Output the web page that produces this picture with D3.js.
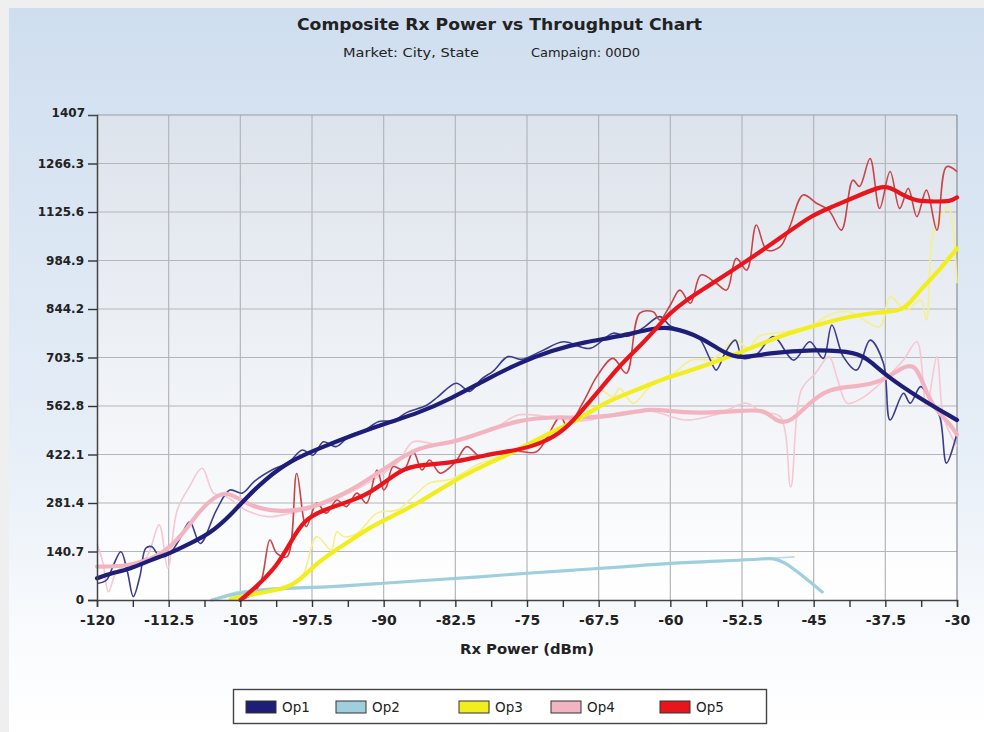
<!DOCTYPE html>
<html><head><meta charset="utf-8">
<script src="https://cdn.jsdelivr.net/npm/d3@7"></script>
<style>
html,body{margin:0;padding:0;background:#efefef;}
svg{display:block;}
text{font-family:"DejaVu Sans",Verdana,sans-serif;fill:#222;}
</style></head>
<body><svg id="c" width="984" height="732"></svg>
<script>
// ---------- DATA ----------
const title = "Composite Rx Power vs Throughput Chart";
const subtitleMarket = "Market: City, State";
const subtitleCampaign = "Campaign: 00D0";
const xLabel = "Rx Power (dBm)";
const xTicks = [-120,-112.5,-105,-97.5,-90,-82.5,-75,-67.5,-60,-52.5,-45,-37.5,-30];
const yTicks = [0,140.7,281.4,422.1,562.8,703.5,844.2,984.9,1125.6,1266.3,1407];
const seriesNames = ["Op1","Op2","Op3","Op4","Op5"];

// smoothed (thick) lines [dBm, throughput]
const op1Smooth = [[-120,63],[-118.6,77],[-116.5,90],[-114.4,116],[-112.3,136],[-110.2,165],[-108.1,194],[-106,247],[-104.6,290],[-102.5,348],[-99.7,406],[-96.3,445],[-92.7,484],[-89.3,517],[-86.4,542],[-82.9,585],[-79.4,638],[-75.9,687],[-72.4,725],[-68.9,749],[-65.4,764],[-61.9,788],[-60,793],[-56.8,764],[-54.1,711],[-52.5,701],[-49.9,716],[-45,727],[-40.4,720],[-39,691],[-37.5,653],[-34.2,590],[-30,522]];
const op2Smooth = [[-108,0],[-105,23],[-100,35],[-95,38],[-90,49],[-85,58],[-80,67],[-75,78],[-70,87],[-65,96],[-60,107],[-55,113],[-50,119],[-48.5,125],[-44.1,23]];
const op3Smooth = [[-106,3],[-103.3,19],[-101.2,29],[-99.8,39],[-98.4,68],[-97,106],[-95.5,136],[-93.4,174],[-91.3,213],[-89.2,242],[-86.4,280],[-82.9,343],[-79.4,392],[-75.9,435],[-72.4,489],[-69.6,522],[-67.1,571],[-63.6,609],[-60.1,648],[-58.3,662],[-54.7,696],[-51.2,735],[-47.7,774],[-44.6,798],[-41.5,822],[-38,836],[-35.5,838],[-34.2,890],[-32.1,948],[-30,1020]];
const op4Smooth = [[-120,97],[-117.2,97],[-115.1,111],[-113,136],[-110.9,194],[-109.4,256],[-107.3,310],[-106,310],[-103.9,271],[-101.1,256],[-98.3,261],[-95.5,290],[-92.7,329],[-89.3,392],[-86.4,445],[-82.9,455],[-79.4,489],[-75.9,522],[-72.4,532],[-68.9,527],[-65.4,537],[-61.9,556],[-60.3,548],[-57,542],[-53.5,546],[-50,556],[-48.9,513],[-47.3,517],[-45.5,571],[-43.4,614],[-40.6,619],[-37.8,633],[-35.7,677],[-34.3,687],[-33.2,600],[-32.2,551],[-30.8,513],[-30,480]];
const op5Smooth = [[-105,0],[-103.3,39],[-101.2,97],[-99.8,164],[-98.4,232],[-96.3,261],[-94.2,281],[-92.1,300],[-90,339],[-88.2,377],[-86.4,392],[-82.9,397],[-79.4,421],[-75.9,435],[-73.4,455],[-71,493],[-68.9,561],[-67.1,619],[-65.4,677],[-63.6,725],[-61.9,774],[-60.1,832],[-58.3,870],[-57,894],[-52.6,972],[-48.3,1054],[-45.2,1117],[-43,1141],[-40.6,1170],[-38.1,1199],[-37.1,1199],[-35.7,1175],[-34.2,1156],[-32.2,1156],[-30.7,1156],[-30,1168]];

// raw (thin) lines [dBm, throughput]
const op1Raw = [[-120,48],[-119,58],[-118.3,100],[-117.5,140],[-116.8,80],[-116.2,10],[-115.5,70],[-114.9,150],[-114.3,155],[-113.4,126],[-112.5,132],[-111.4,174],[-110.3,227],[-109.2,164],[-107.5,261],[-106.1,319],[-104.8,310],[-103.5,345],[-101.5,380],[-100,398],[-98.5,435],[-97.4,420],[-96.3,459],[-95,445],[-93.5,478],[-92,492],[-90.5,518],[-89,520],[-87.5,545],[-85.5,565],[-84.3,590],[-82.4,629],[-81,605],[-79.8,640],[-78.5,665],[-77,706],[-75.6,698],[-73.5,722],[-71.2,749],[-68.4,730],[-66,774],[-64.5,765],[-62.8,790],[-61.1,822],[-60,795],[-58.3,779],[-57,760],[-55.8,696],[-55.2,667],[-54.2,720],[-53.2,754],[-52.4,701],[-51,712],[-49.2,764],[-47.1,696],[-45.4,749],[-44,701],[-43.1,798],[-41.9,706],[-40.5,667],[-39.1,754],[-37.7,687],[-37,522],[-35.6,600],[-34.9,571],[-33.8,619],[-32.8,580],[-31.8,532],[-31.1,397],[-30,484]];
const op2Raw = [[-108,0],[-105,25],[-100,36],[-95,38],[-90,49],[-85,58],[-80,67],[-75,78],[-70,87],[-65,96],[-60,107],[-55,113],[-50,120],[-47,125]];
const op3Raw = [[-106,2],[-104,10],[-102,26],[-100,38],[-98.5,70],[-97,184],[-95.5,145],[-94.9,198],[-94.2,184],[-92.8,193],[-90.7,252],[-88.5,262],[-86.9,300],[-85.2,339],[-83,350],[-80,395],[-77,425],[-74,462],[-71,505],[-69,535],[-67.4,609],[-66,590],[-65.3,614],[-63.9,571],[-62,622],[-60,650],[-57.8,696],[-55.5,700],[-53.2,754],[-51.8,730],[-50.8,764],[-48,778],[-45,800],[-43.4,827],[-41.3,836],[-38.1,793],[-37,880],[-35.3,841],[-33.8,870],[-33.2,812],[-32.5,1064],[-31.5,1120],[-30.9,1141],[-30,919]];
const op4Raw = [[-120,164],[-119.4,110],[-118.8,24],[-118,80],[-117,100],[-116,108],[-114.8,125],[-113.5,218],[-112.6,92],[-111.6,261],[-110.3,330],[-109,382],[-107.8,310],[-106.5,300],[-104.5,262],[-102.2,242],[-99.7,252],[-97,270],[-94,305],[-91,350],[-88.5,400],[-86.9,459],[-84,450],[-81,470],[-78,505],[-75.9,537],[-72,528],[-69,520],[-65,545],[-62,548],[-58.3,522],[-55,540],[-52,571],[-50.5,545],[-48.5,532],[-47.4,328],[-46.3,609],[-44.8,658],[-43.4,706],[-42.5,640],[-41.5,571],[-40,585],[-38.4,619],[-37,655],[-35.6,696],[-34.2,749],[-33.2,561],[-32.1,706],[-31.4,530],[-30,445]];
const op5Raw = [[-105,0],[-104,12],[-102.9,48],[-101.9,174],[-101.2,136],[-100.1,126],[-99.1,367],[-98.1,213],[-97,281],[-96,252],[-94.9,290],[-93.9,271],[-92.8,310],[-91.8,281],[-90.7,377],[-90,319],[-89.7,329],[-89,387],[-87.9,377],[-86.9,430],[-86,377],[-85.2,406],[-84.1,368],[-82.5,400],[-81.3,445],[-79.9,416],[-78.2,426],[-76,432],[-74,430],[-71.5,532],[-70.8,503],[-69,580],[-67.7,648],[-66,701],[-64.6,658],[-63.2,832],[-61.8,836],[-61.1,812],[-60,856],[-59,899],[-57.9,861],[-56.8,943],[-55.2,919],[-54.1,899],[-53.1,991],[-52,957],[-51,1088],[-49.9,1015],[-48.5,1025],[-47.5,1083],[-46.1,1175],[-44.7,1151],[-43.4,1130],[-42.1,1073],[-40.9,1218],[-40.2,1200],[-39.1,1281],[-38.1,1136],[-37,1243],[-36,1136],[-35.1,1194],[-34.2,1112],[-33.2,1189],[-32.1,1073],[-31.1,1257],[-30,1243]];

const colors = {Op1:"#1e1e78",Op2:"#9fcfdd",Op3:"#f2ee1e",Op4:"#f3b4c1",Op5:"#e8161c"};
const rawColors = {Op1:"#3c3c8e",Op2:"#b7dde7",Op3:"#f4f08a",Op4:"#f6c8d1",Op5:"#c94448"};

// ---------- DRAW ----------
const svg = d3.select("#c");
const defs = svg.append("defs");
const g1 = defs.append("linearGradient").attr("id","panelGrad").attr("x1",0).attr("y1",0).attr("x2",0).attr("y2",1);
g1.append("stop").attr("offset","0%").attr("stop-color","#cfdeef");
g1.append("stop").attr("offset","60%").attr("stop-color","#e6eef7");
g1.append("stop").attr("offset","85%").attr("stop-color","#f8fafd");
g1.append("stop").attr("offset","100%").attr("stop-color","#ffffff");
const g2 = defs.append("linearGradient").attr("id","plotGrad").attr("x1",0).attr("y1",0).attr("x2",0).attr("y2",1);
g2.append("stop").attr("offset","0%").attr("stop-color","#dde3ec");
g2.append("stop").attr("offset","100%").attr("stop-color","#ffffff");

svg.append("rect").attr("x",0).attr("y",0).attr("width",984).attr("height",732).attr("fill","#efefef");
svg.append("rect").attr("x",9).attr("y",8).attr("width",975).attr("height",724).attr("fill","url(#panelGrad)");

const L=97,R=957,T=115,B=600;
const x = d3.scaleLinear().domain([-120,-30]).range([L,R]);
const y = d3.scaleLinear().domain([0,1407]).range([B,T]);

svg.append("rect").attr("x",L).attr("y",T).attr("width",R-L).attr("height",B-T).attr("fill","url(#plotGrad)");

// grid
svg.append("g").selectAll("line").data(xTicks.slice(1,-1)).join("line")
  .attr("x1",d=>x(d)).attr("x2",d=>x(d)).attr("y1",T).attr("y2",B)
  .attr("stroke","#b4b6ba").attr("stroke-width",1.2);
svg.append("g").selectAll("line").data(yTicks.slice(1,-1)).join("line")
  .attr("x1",L).attr("x2",R).attr("y1",d=>y(d)).attr("y2",d=>y(d))
  .attr("stroke","#b4b6ba").attr("stroke-width",1.2);
// border
svg.append("line").attr("x1",L).attr("x2",R).attr("y1",T).attr("y2",T).attr("stroke","#9a9da2").attr("stroke-width",1.2);
svg.append("line").attr("x1",R).attr("x2",R).attr("y1",T).attr("y2",B).attr("stroke","#8a8d92").attr("stroke-width",1.2);

// lines
const rawLine = d3.line().x(d=>x(d[0])).y(d=>y(d[1])).curve(d3.curveCatmullRom.alpha(0.5));
const smoothLine = d3.line().x(d=>x(d[0])).y(d=>y(d[1])).curve(d3.curveBasis);
const raws = {Op1:op1Raw,Op2:op2Raw,Op3:op3Raw,Op4:op4Raw,Op5:op5Raw};
const smooths = {Op1:op1Smooth,Op2:op2Smooth,Op3:op3Smooth,Op4:op4Smooth,Op5:op5Smooth};
const drawOrder = ["Op2","Op4","Op3","Op1","Op5"];
const plotG = svg.append("g");
drawOrder.forEach(k=>{
  plotG.append("path").attr("d",rawLine(raws[k])).attr("fill","none")
    .attr("stroke",rawColors[k]).attr("stroke-width",1.6).attr("stroke-linejoin","round");
});
drawOrder.forEach(k=>{
  plotG.append("path").attr("d",smoothLine(smooths[k])).attr("fill","none")
    .attr("stroke",colors[k]).attr("stroke-width",k==="Op2"?3.2:4.2)
    .attr("stroke-linejoin","round").attr("stroke-linecap","round");
});

// axes
const xMinor = d3.range(0,25).map(i=>-120+i*3.75);
const xAxis = svg.append("g").attr("transform",`translate(0,${B})`);
xAxis.call(d3.axisBottom(x).tickValues(xMinor).tickSize(7).tickFormat(d=>xTicks.includes(d)?String(d):""));
xAxis.select(".domain").attr("stroke","#444").attr("stroke-width",1.5);
xAxis.selectAll(".tick line").attr("stroke","#333").attr("stroke-width",1.4);
xAxis.selectAll(".tick text").attr("dy","1.05em").style("font-size","14px").style("font-weight","bold")
  .style("font-family","'DejaVu Sans',Verdana,sans-serif").attr("fill","#222");

const yAxis = svg.append("g").attr("transform",`translate(${L},0)`);
yAxis.call(d3.axisLeft(y).tickValues(yTicks).tickSize(9).tickPadding(4).tickFormat(d=>String(d)));
yAxis.select(".domain").attr("stroke","#444").attr("stroke-width",1.5);
yAxis.selectAll(".tick line").attr("stroke","#333").attr("stroke-width",1.4)
  .attr("opacity",d=>d===1407?0:1);
yAxis.selectAll(".tick text").style("font-size","12px").style("font-weight","bold")
  .style("font-family","'DejaVu Sans',Verdana,sans-serif").attr("fill","#222")
  .attr("x",d=>d===1407?-12:-13).attr("dy",d=>d===1407?"0.1em":"0.32em");

// titles
svg.append("text").attr("x",499.5).attr("y",30).attr("text-anchor","middle")
  .style("font-size","15.5px").style("font-weight","bold").attr("textLength",405).attr("lengthAdjust","spacingAndGlyphs").text(title);
svg.append("text").attr("x",343).attr("y",57).style("font-size","12px").attr("textLength",136).attr("lengthAdjust","spacingAndGlyphs").text(subtitleMarket);
svg.append("text").attr("x",531).attr("y",57).style("font-size","12px").attr("textLength",109).attr("lengthAdjust","spacingAndGlyphs").text(subtitleCampaign);
svg.append("text").attr("x",527).attr("y",654).attr("text-anchor","middle")
  .style("font-size","14px").style("font-weight","bold").attr("textLength",134).attr("lengthAdjust","spacingAndGlyphs").text(xLabel);

// legend
const lg = svg.append("g");
lg.append("rect").attr("x",233.5).attr("y",689.5).attr("width",533).attr("height",34)
  .attr("fill","#ffffff").attr("stroke","#444").attr("stroke-width",1.4);
const legendX = [246,336,459,551,660];
seriesNames.forEach((n,i)=>{
  lg.append("rect").attr("x",legendX[i]).attr("y",701).attr("width",30).attr("height",12)
    .attr("fill",colors[n]).attr("stroke","#333").attr("stroke-width",1);
  lg.append("text").attr("x",legendX[i]+36).attr("y",712).style("font-size","13.5px").text(n);
});
</script></body></html>
